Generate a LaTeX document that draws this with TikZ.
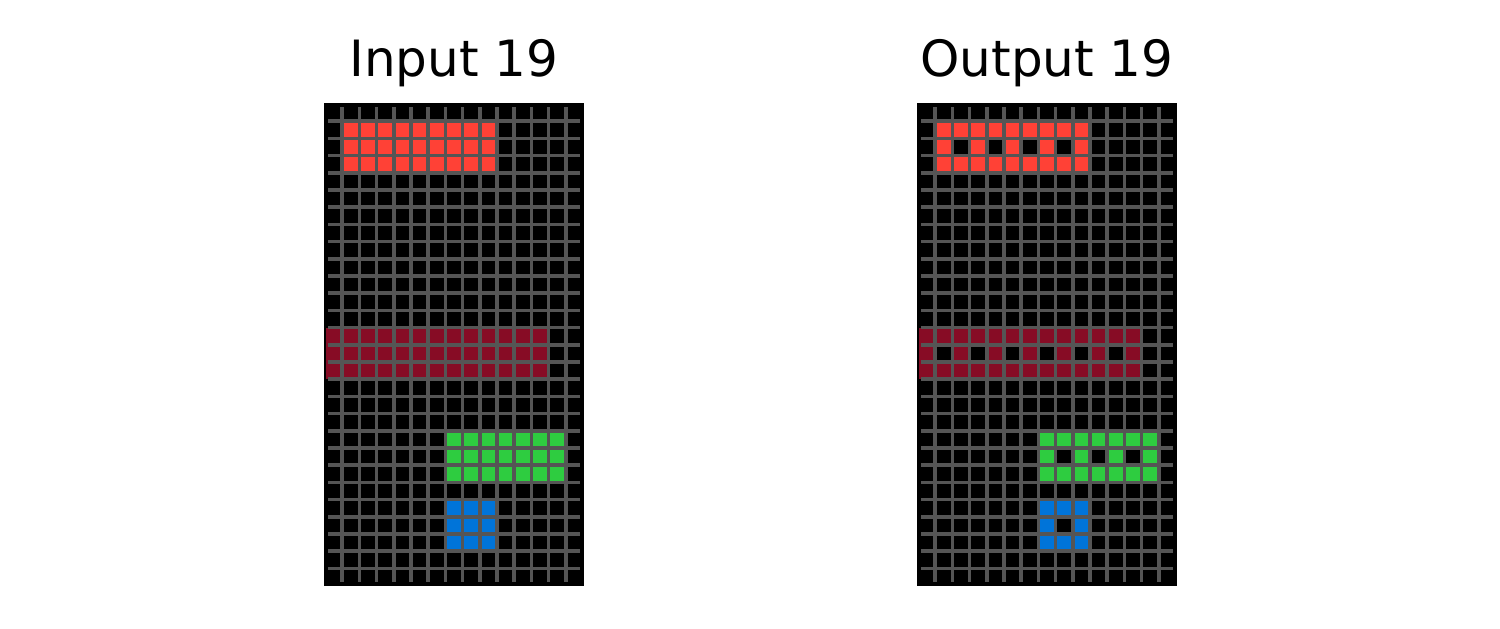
\documentclass[tikz,border=0pt]{standalone}
\usepackage{fontspec}
\setmainfont{DejaVu Sans}
\definecolor{arcred}{HTML}{FF4136}
\definecolor{arcmaroon}{HTML}{870C25}
\definecolor{arcgreen}{HTML}{2ECC40}
\definecolor{arcblue}{HTML}{0074D9}
\definecolor{gridgray}{HTML}{555555}
\tikzset{
  gridline/.style={draw=gridgray, line width=3.6pt},
  frameline/.style={draw=black, line width=1.5pt},
  titletext/.style={font=\fontsize{50}{58}\selectfont, anchor=base, inner sep=0pt},
}
\newcommand\myblock[5]{\fill[#5] (#1,#3) rectangle (#2+1,#4+1);}
\newcommand\myblocks{%
  \myblock{1}{9}{1}{3}{arcred}
  \myblock{0}{12}{13}{15}{arcmaroon}
  \myblock{7}{13}{19}{21}{arcgreen}
  \myblock{7}{9}{23}{25}{arcblue}
}
\newcommand\mygridlines{%
  \foreach \i in {1,...,14} \draw[gridline] (\i,0.2) -- (\i,27.8);
  \foreach \j in {1,...,27} \draw[gridline] (0.2,\j) -- (14.8,\j);
  \draw[frameline] (0,0) rectangle (15,28);
}
\begin{document}
\begin{tikzpicture}[x=1pt,y=-1pt]
\useasboundingbox[fill=white] (0,0) rectangle (1500,629);
\node[titletext] (tin) at (454,76) {Input 19};
\node[titletext] (tout) at (1047,76) {Output 19};
% input grid
\begin{scope}[shift={(325,104)}, x=17.2pt, y=-17.2pt]
  \fill[black] (0,0) rectangle (15,28);
  \myblocks
  \mygridlines
\end{scope}
% output grid
\begin{scope}[shift={(918,104)}, x=17.2pt, y=-17.2pt]
  \fill[black] (0,0) rectangle (15,28);
  \myblocks
  \foreach \c in {2,4,6,8} \fill[black] (\c,2) rectangle ++(1,1);
  \foreach \c in {1,3,5,7,9,11} \fill[black] (\c,14) rectangle ++(1,1);
  \foreach \c in {8,10,12} \fill[black] (\c,20) rectangle ++(1,1);
  \fill[black] (8,24) rectangle ++(1,1);
  \mygridlines
\end{scope}
\end{tikzpicture}
\end{document}
